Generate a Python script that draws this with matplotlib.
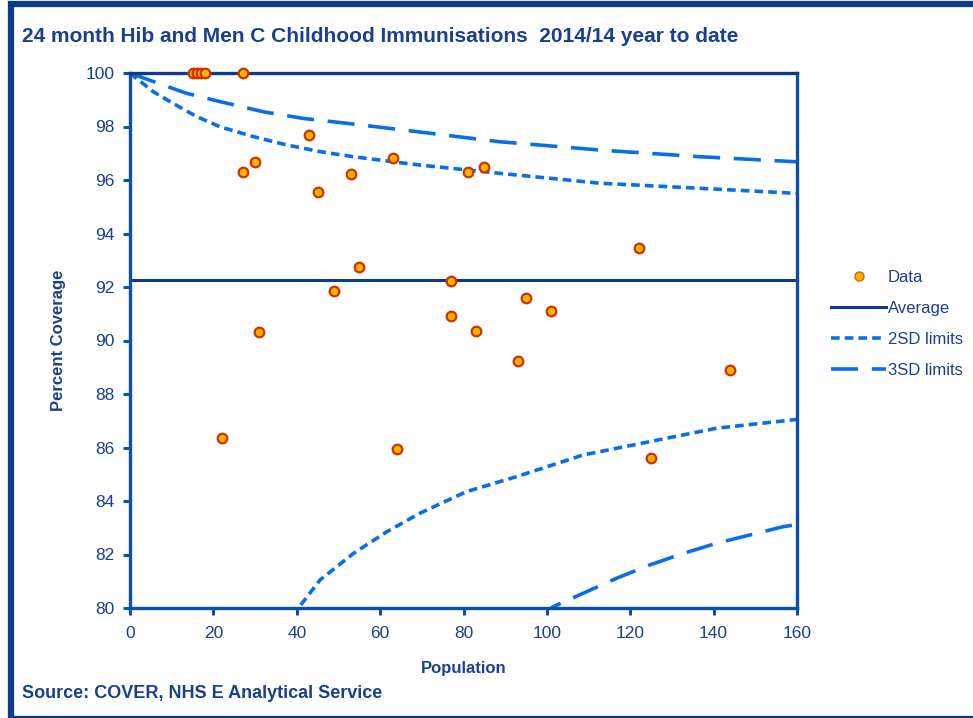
import matplotlib
matplotlib.use("Agg")
from matplotlib import pyplot as plt
from matplotlib.patches import Rectangle
from matplotlib.lines import Line2D

# Data points (population, percent coverage)
population = [15, 16, 17, 18, 27, 43, 27, 30, 45, 53, 63, 55, 49, 81, 85, 122, 77,
              22, 31, 77, 64, 95, 101, 83, 93, 144, 125]
coverage = [100, 100, 100, 100, 100, 97.67, 96.3, 96.67, 95.56, 96.22, 96.83, 92.73, 91.84,
            96.3, 96.47, 93.44, 92.21, 86.36, 90.32, 90.91, 85.94, 91.58, 91.09, 90.36,
            89.25, 88.89, 85.6]

average = 92.26

# Control limits
upper_2sd_x = [0, 0.5, 5.6, 9.6, 16, 21.6, 29.6, 37.6, 45.6, 53.6, 64.7, 69.5, 88.7, 112.7, 136.7, 160]
upper_2sd_y = [100, 99.93, 99.3, 98.93, 98.37, 97.99, 97.62, 97.31, 97.06, 96.87, 96.65, 96.56,
               96.25, 95.88, 95.69, 95.5]
upper_3sd_x = [0, 0.5, 5.6, 13.6, 21.6, 32, 41.6, 52, 65.5, 88.7, 112.7, 136.7, 160]
upper_3sd_y = [100, 99.97, 99.68, 99.24, 98.93, 98.55, 98.3, 98.12, 97.87, 97.43, 97.12, 96.87, 96.68]
lower_2sd_x = [38, 40.4, 45.6, 53.6, 61.6, 69.5, 80.7, 92.7, 108.7, 124.7, 140.7, 160]
lower_2sd_y = [79.2, 80.0, 81.05, 82.04, 82.85, 83.54, 84.35, 84.91, 85.72, 86.22, 86.72, 87.05]
lower_3sd_x = [98, 101.5, 108.7, 116.7, 124.7, 132.7, 140.7, 148.7, 156.7, 160]
lower_3sd_y = [79.6, 80.05, 80.55, 81.11, 81.61, 82.04, 82.42, 82.73, 83.04, 83.12]

x_ticks = [0, 20, 40, 60, 80, 100, 120, 140, 160]
y_ticks = [80, 82, 84, 86, 88, 90, 92, 94, 96, 98, 100]

NAVY = '#0d3b8c'
SPINE = '#0b4fb0'
LIMIT = '#0a6fe6'
TEXT = '#1b3f8f'

plt.rcParams['font.family'] = ['Liberation Sans', 'DejaVu Sans']

fig = plt.figure(figsize=(9.73, 7.18), dpi=100)
ax = fig.add_axes([130 / 973, 1 - 608 / 718, (797 - 130) / 973, (608 - 73) / 718])

# Figure frame (dark border on top and left, thin at the bottom edge)
fig.patches.append(Rectangle((11 / 973, -1 / 718), 1.1, 1 - 3 / 718, transform=fig.transFigure,
                             fill=False, edgecolor=NAVY, linewidth=4.5, clip_on=False))

ax.plot(upper_2sd_x, upper_2sd_y, color=LIMIT, lw=2.6, dashes=(2.4, 1.4))
ax.plot(lower_2sd_x, lower_2sd_y, color=LIMIT, lw=2.6, dashes=(2.4, 1.4))
ax.plot(upper_3sd_x, upper_3sd_y, color=LIMIT, lw=2.6, dashes=(7.5, 3.8))
ax.plot(lower_3sd_x, lower_3sd_y, color=LIMIT, lw=2.6, dashes=(7.5, 3.8))
ax.axhline(average, color=NAVY, lw=2.2)
ax.scatter(population, coverage, s=48, facecolor='#ffb300', edgecolor='#cc3300', linewidth=1.6,
           zorder=5, clip_on=False)

ax.set_xlim(0, 160)
ax.set_ylim(80, 100)
ax.set_xticks(x_ticks)
ax.set_yticks(y_ticks)
for name, spine in ax.spines.items():
    spine.set_color(SPINE)
    spine.set_linewidth(2.4)
ax.spines['top'].set_color(NAVY)
ax.tick_params(colors=SPINE, width=2.2, length=5, labelcolor=TEXT, labelsize=12.5)
ax.tick_params(axis='x', pad=8)
ax.tick_params(axis='y', pad=6)

ax.set_xlabel('Population', fontsize=12, fontweight='bold', color=TEXT, labelpad=14)
ax.set_ylabel('Percent Coverage', fontsize=12, fontweight='bold', color=TEXT, labelpad=14)

fig.text(22 / 973, 1 - 37 / 718, '24 month Hib and Men C Childhood Immunisations  2014/14 year to date',
         fontsize=15, fontweight='bold', color=TEXT, va='center')
fig.text(22 / 973, 1 - 693 / 718, 'Source: COVER, NHS E Analytical Service',
         fontsize=13, fontweight='bold', color=TEXT, va='center')

handles = [
    Line2D([], [], ls='none', marker='o', markersize=6.5, markerfacecolor='#ffb300',
           markeredgecolor='#e06000', markeredgewidth=1),
    Line2D([], [], color=NAVY, lw=2.2),
    Line2D([], [], color=LIMIT, lw=2.6, dashes=(2.4, 1.4)),
    Line2D([], [], color=LIMIT, lw=2.6, dashes=(7.5, 3.8)),
]
fig.legend(handles, ['Data', 'Average', '2SD limits', '3SD limits'], loc='center left',
           bbox_to_anchor=(816 / 973, 1 - 324 / 718), frameon=False, fontsize=12,
           labelcolor=TEXT, handlelength=3.3, handletextpad=0.1, labelspacing=0.95)

fig.savefig('out.png', dpi=100)
